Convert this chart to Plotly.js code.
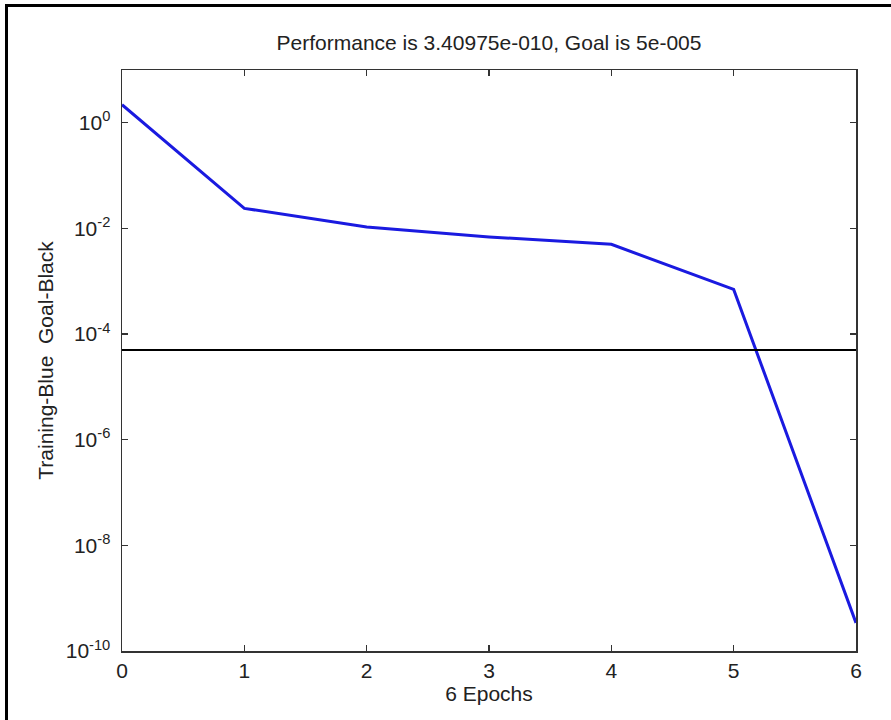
<!DOCTYPE html>
<html>
<head>
<meta charset="utf-8">
<script src="https://cdn.plot.ly/plotly-3.0.1.min.js"></script>
<style>
html, body { margin: 0; padding: 0; background: #ffffff; }
#wrap { position: absolute; left: 5px; top: 4px; border-left: 3px solid #000; border-top: 3px solid #000; width: 883px; height: 713px; }
#chart { width: 883px; height: 713px; }
</style>
</head>
<body>
<div id="wrap"><div id="chart"></div></div>
<script>
const epochs = [0, 1, 2, 3, 4, 5, 6];
const performance = [2.2, 0.024, 0.0107, 0.0069, 0.005, 0.0007, 3.40975e-10];
const goal = 5e-5;
const xTicks = [0, 1, 2, 3, 4, 5, 6];
const yTickVals = [1, 1e-2, 1e-4, 1e-6, 1e-8, 1e-10];
const yTickText = ['10<sup>0</sup>', '10<sup>-2</sup>', '10<sup>-4</sup>', '10<sup>-6</sup>', '10<sup>-8</sup>', '10<sup>-10</sup>'];
const titleText = 'Performance is 3.40975e-010, Goal is 5e-005';
const xTitle = '6 Epochs';
const yTitle = 'Training-Blue  Goal-Black';

const font = { family: 'Liberation Sans, Arial, sans-serif', size: 21, color: '#222' };

const traces = [
  {
    x: epochs, y: performance, type: 'scatter', mode: 'lines',
    line: { color: '#1a1ae0', width: 3 }, hoverinfo: 'skip'
  },
  {
    x: [epochs[0], epochs[epochs.length - 1]], y: [goal, goal], type: 'scatter', mode: 'lines',
    line: { color: '#000000', width: 2 }, hoverinfo: 'skip'
  }
];

const axisCommon = {
  showline: true, linecolor: '#333', linewidth: 1.5, mirror: 'allticks',
  ticks: 'inside', ticklen: 6, tickwidth: 1.3, tickcolor: '#333',
  showgrid: false, zeroline: false, tickfont: font
};

const layout = {
  width: 883, height: 713,
  margin: { l: 114, r: 35, t: 63, b: 69 },
  paper_bgcolor: '#ffffff', plot_bgcolor: '#ffffff',
  showlegend: false,
  font: font,
  title: { text: titleText, font: font, x: 0.5, xref: 'paper', xanchor: 'center', y: 0.95, yref: 'container', yanchor: 'middle' },
  xaxis: Object.assign({}, axisCommon, {
    range: [0, 6], tickvals: xTicks, ticktext: xTicks.map(String),
    title: { text: xTitle, font: font, standoff: 4 }
  }),
  yaxis: Object.assign({}, axisCommon, {
    type: 'log', range: [-10, 1], tickvals: yTickVals, ticktext: yTickText,
    ticklabelstandoff: 6,
    title: { text: yTitle, font: font, standoff: 6 }
  })
};

Plotly.newPlot('chart', traces, layout, { displayModeBar: false, staticPlot: true });
</script>
</body>
</html>
